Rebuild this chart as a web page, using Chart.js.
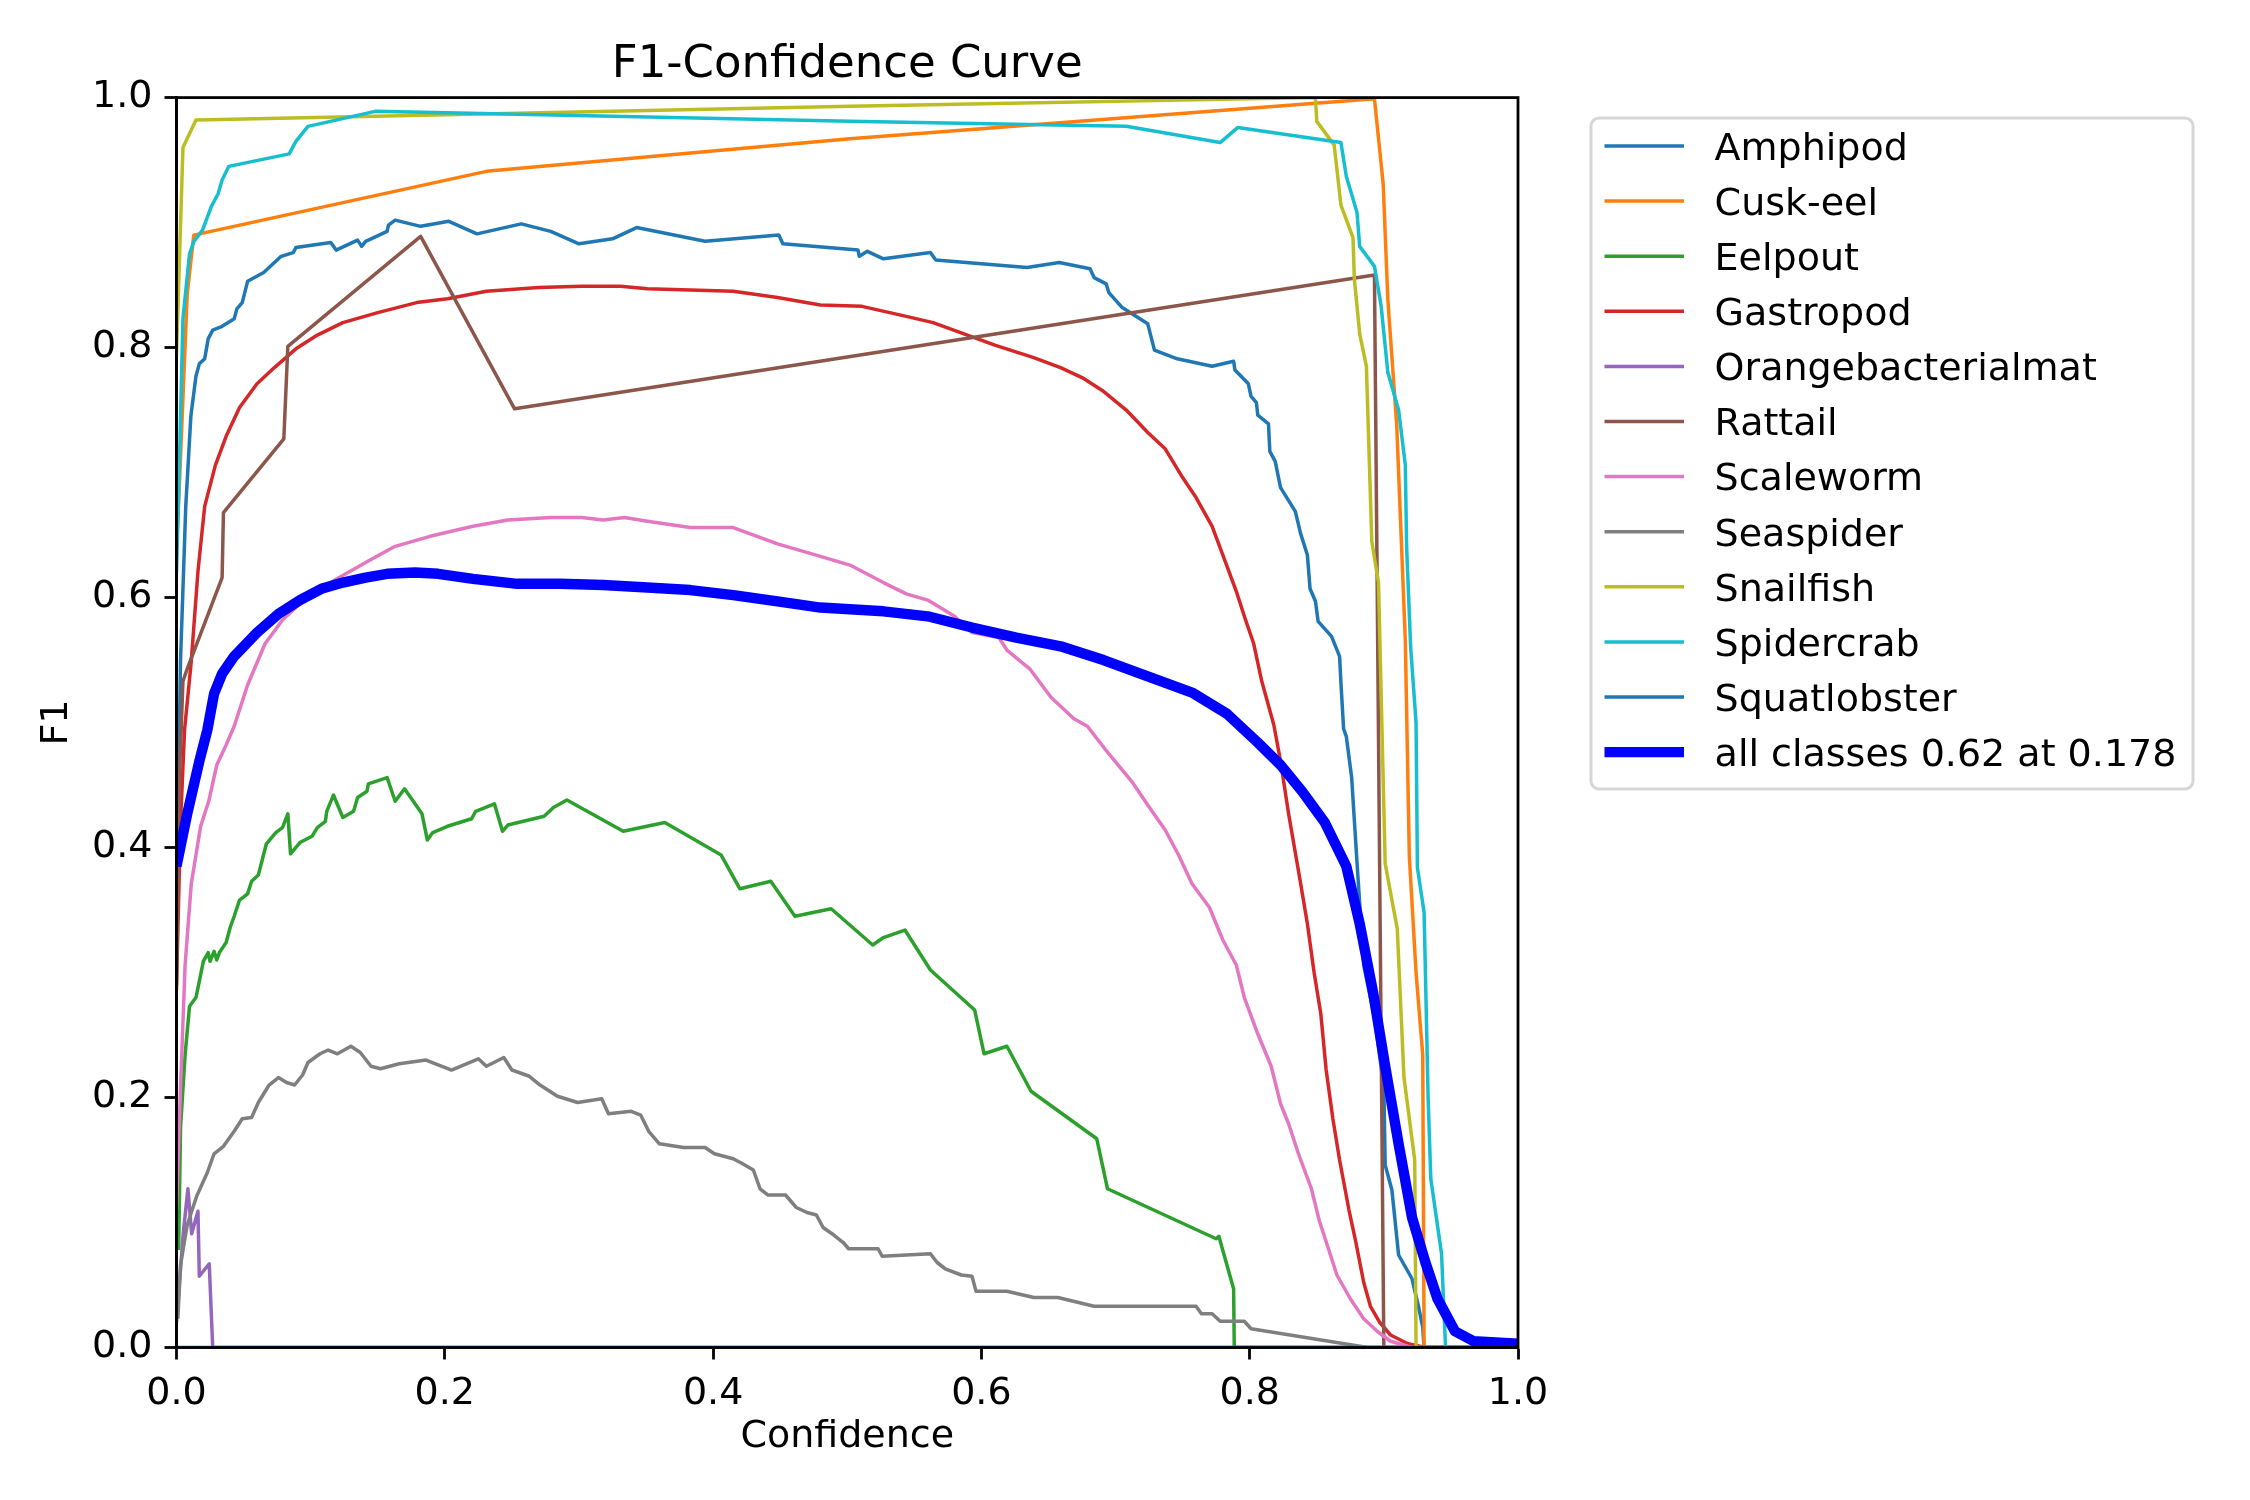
<!DOCTYPE html>
<html>
<head>
<meta charset="utf-8">
<title>F1-Confidence Curve</title>
<script src="https://cdn.jsdelivr.net/npm/chart.js@4.4.1/dist/chart.umd.min.js"></script>
<style>
  html, body { margin: 0; padding: 0; background: #ffffff; }
  canvas { display: block; }
</style>
</head>
<body>
<canvas id="f1Chart" width="2250" height="1500"></canvas>
<script>
'use strict';

// ---- data (confidence, F1) ----
const classNames = ['Amphipod', 'Cusk-eel', 'Eelpout', 'Gastropod', 'Orangebacterialmat', 'Rattail',
  'Scaleworm', 'Seaspider', 'Snailfish', 'Spidercrab', 'Squatlobster'];
const allClassesLabel = 'all classes 0.62 at 0.178';

const xTickValues = [0, 0.2, 0.4, 0.6, 0.8, 1.0];
const yTickValues = [0, 0.2, 0.4, 0.6, 0.8, 1.0];

const amphipod = [[0, 0.35], [0.003, 0.55], [0.0069, 0.673], [0.0107, 0.745], [0.0145, 0.777], [0.017, 0.787],
  [0.021, 0.791], [0.0236, 0.807], [0.027, 0.814], [0.034, 0.817], [0.043, 0.823], [0.045, 0.831], [0.049, 0.836],
  [0.053, 0.853], [0.065, 0.86], [0.078, 0.873], [0.087, 0.876], [0.089, 0.88], [0.115, 0.884], [0.119, 0.878],
  [0.135, 0.886], [0.138, 0.881], [0.141, 0.885], [0.157, 0.893], [0.158, 0.898], [0.163, 0.902], [0.182, 0.897],
  [0.203, 0.901], [0.224, 0.891], [0.257, 0.899], [0.279, 0.893], [0.3, 0.883], [0.325, 0.887], [0.343, 0.896],
  [0.394, 0.885], [0.449, 0.89], [0.452, 0.883], [0.508, 0.878], [0.509, 0.873], [0.515, 0.877], [0.527, 0.871],
  [0.562, 0.876], [0.566, 0.87], [0.634, 0.864], [0.658, 0.868], [0.681, 0.863], [0.684, 0.856], [0.693, 0.851],
  [0.695, 0.844], [0.705, 0.832], [0.724, 0.819], [0.729, 0.798], [0.746, 0.791], [0.772, 0.785], [0.788, 0.789],
  [0.789, 0.782], [0.799, 0.771], [0.801, 0.761], [0.805, 0.756], [0.806, 0.746], [0.814, 0.739], [0.815, 0.717],
  [0.819, 0.709], [0.823, 0.688], [0.834, 0.669], [0.838, 0.651], [0.843, 0.634], [0.845, 0.607], [0.849, 0.597],
  [0.851, 0.581], [0.861, 0.569], [0.867, 0.553], [0.868, 0.532], [0.87, 0.495], [0.872, 0.489], [0.876, 0.456],
  [0.88, 0.388], [0.885, 0.306], [0.893, 0.264], [0.9, 0.208], [0.901, 0.146], [0.906, 0.126], [0.911, 0.074],
  [0.921, 0.055], [0.926, 0.032], [0.929, 0.016], [0.93, 0], [1, 0]];

const cuskEel = [[0, 0.641], [0.002, 0.686], [0.008, 0.843], [0.0129, 0.89], [0.231, 0.941], [0.502, 0.967],
  [0.893, 0.999], [0.8995, 0.931], [0.903, 0.838], [0.9096, 0.738], [0.916, 0.566], [0.919, 0.393], [0.924, 0.3],
  [0.929, 0.234], [0.93, 0], [1, 0]];

const eelpout = [[0.0016, 0.078], [0.003, 0.176], [0.0064, 0.234], [0.0097, 0.273], [0.0145, 0.28], [0.017, 0.293],
  [0.02, 0.309], [0.0236, 0.316], [0.025, 0.309], [0.028, 0.317], [0.03, 0.31], [0.032, 0.316], [0.037, 0.324],
  [0.04, 0.336], [0.043, 0.345], [0.047, 0.358], [0.053, 0.363], [0.056, 0.373], [0.061, 0.378], [0.067, 0.403],
  [0.074, 0.412], [0.079, 0.416], [0.083, 0.427], [0.085, 0.395], [0.092, 0.404], [0.101, 0.409], [0.105, 0.416],
  [0.111, 0.421], [0.112, 0.429], [0.117, 0.442], [0.124, 0.424], [0.132, 0.429], [0.135, 0.44], [0.142, 0.445],
  [0.143, 0.451], [0.157, 0.456], [0.163, 0.437], [0.17, 0.447], [0.183, 0.427], [0.187, 0.406], [0.191, 0.412],
  [0.202, 0.417], [0.22, 0.423], [0.223, 0.429], [0.237, 0.435], [0.243, 0.413], [0.247, 0.418], [0.274, 0.425],
  [0.281, 0.432], [0.291, 0.438], [0.333, 0.413], [0.364, 0.42], [0.406, 0.394], [0.42, 0.367], [0.443, 0.373],
  [0.461, 0.345], [0.488, 0.351], [0.519, 0.322], [0.527, 0.328], [0.543, 0.334], [0.562, 0.302], [0.595, 0.27],
  [0.602, 0.235], [0.619, 0.241], [0.637, 0.205], [0.686, 0.167], [0.694, 0.127], [0.775, 0.087], [0.777, 0.089],
  [0.788, 0.047], [0.7885, 0], [1, 0]];

const gastropod = [[0, 0.29], [0.003, 0.42], [0.006, 0.494], [0.011, 0.549], [0.016, 0.621], [0.021, 0.673],
  [0.029, 0.706], [0.037, 0.729], [0.047, 0.752], [0.06, 0.771], [0.073, 0.784], [0.089, 0.799], [0.105, 0.81],
  [0.124, 0.82], [0.15, 0.828], [0.179, 0.836], [0.202, 0.839], [0.231, 0.845], [0.27, 0.848], [0.302, 0.849],
  [0.331, 0.849], [0.351, 0.847], [0.383, 0.846], [0.415, 0.845], [0.448, 0.84], [0.48, 0.834], [0.511, 0.833],
  [0.544, 0.825], [0.564, 0.82], [0.587, 0.811], [0.61, 0.802], [0.639, 0.792], [0.659, 0.784], [0.675, 0.776],
  [0.691, 0.765], [0.708, 0.75], [0.724, 0.732], [0.737, 0.719], [0.75, 0.696], [0.76, 0.68], [0.772, 0.657],
  [0.78, 0.634], [0.79, 0.605], [0.796, 0.585], [0.803, 0.563], [0.809, 0.533], [0.818, 0.498], [0.823, 0.469],
  [0.829, 0.427], [0.838, 0.371], [0.843, 0.339], [0.848, 0.3], [0.853, 0.267], [0.857, 0.222], [0.862, 0.183],
  [0.867, 0.15], [0.874, 0.11], [0.879, 0.085], [0.885, 0.052], [0.89, 0.033], [0.897, 0.02], [0.905, 0.01],
  [0.918, 0.003], [0.931, 0], [1, 0]];

const orangebacterialmat = [[0, 0.02], [0.005, 0.091], [0.0085, 0.127], [0.0113, 0.091], [0.016, 0.109],
  [0.017, 0.057], [0.0244, 0.067], [0.027, 0], [1, 0]];

const rattail = [[0, 0.286], [0.002, 0.45], [0.0048, 0.533], [0.008, 0.543], [0.034, 0.616], [0.035, 0.668],
  [0.08, 0.727], [0.083, 0.801], [0.182, 0.889], [0.252, 0.751], [0.893, 0.858], [0.9, 0], [1, 0]];

const scaleworm = [[0, 0.11], [0.003, 0.208], [0.0064, 0.306], [0.011, 0.371], [0.018, 0.417], [0.024, 0.437],
  [0.03, 0.466], [0.037, 0.482], [0.043, 0.497], [0.053, 0.53], [0.066, 0.563], [0.079, 0.582], [0.092, 0.595],
  [0.118, 0.614], [0.141, 0.628], [0.163, 0.641], [0.189, 0.649], [0.221, 0.657], [0.247, 0.662], [0.279, 0.664],
  [0.302, 0.664], [0.318, 0.662], [0.334, 0.664], [0.351, 0.661], [0.383, 0.656], [0.415, 0.656], [0.448, 0.643],
  [0.48, 0.633], [0.502, 0.626], [0.527, 0.612], [0.544, 0.603], [0.56, 0.598], [0.58, 0.585], [0.593, 0.572],
  [0.613, 0.568], [0.619, 0.558], [0.636, 0.543], [0.652, 0.52], [0.669, 0.503], [0.679, 0.497], [0.692, 0.479],
  [0.702, 0.466], [0.712, 0.453], [0.724, 0.434], [0.737, 0.414], [0.747, 0.394], [0.757, 0.371], [0.77, 0.352],
  [0.78, 0.326], [0.79, 0.306], [0.796, 0.28], [0.806, 0.251], [0.816, 0.225], [0.823, 0.195], [0.829, 0.179],
  [0.836, 0.156], [0.846, 0.127], [0.852, 0.101], [0.859, 0.078], [0.865, 0.058], [0.875, 0.039], [0.885, 0.023],
  [0.895, 0.013], [0.905, 0.005], [0.921, 0], [1, 0]];

const seaspider = [[0.001, 0.023], [0.003, 0.066], [0.008, 0.098], [0.015, 0.121], [0.023, 0.14], [0.028, 0.155],
  [0.035, 0.161], [0.043, 0.173], [0.049, 0.183], [0.056, 0.184], [0.061, 0.196], [0.069, 0.21], [0.076, 0.216],
  [0.082, 0.212], [0.088, 0.21], [0.094, 0.218], [0.098, 0.228], [0.107, 0.235], [0.113, 0.238], [0.12, 0.235],
  [0.13, 0.241], [0.137, 0.236], [0.145, 0.225], [0.152, 0.223], [0.166, 0.227], [0.186, 0.23], [0.205, 0.222],
  [0.225, 0.231], [0.231, 0.225], [0.244, 0.232], [0.25, 0.222], [0.263, 0.217], [0.271, 0.21], [0.284, 0.201],
  [0.299, 0.196], [0.317, 0.199], [0.322, 0.187], [0.339, 0.189], [0.346, 0.186], [0.352, 0.173], [0.36, 0.163],
  [0.378, 0.16], [0.394, 0.16], [0.401, 0.155], [0.415, 0.151], [0.422, 0.147], [0.43, 0.142], [0.435, 0.127],
  [0.441, 0.122], [0.454, 0.122], [0.462, 0.112], [0.47, 0.108], [0.477, 0.106], [0.482, 0.096], [0.49, 0.09],
  [0.497, 0.084], [0.501, 0.079], [0.523, 0.079], [0.526, 0.073], [0.562, 0.075], [0.567, 0.068], [0.573, 0.063],
  [0.585, 0.058], [0.593, 0.057], [0.596, 0.045], [0.619, 0.045], [0.639, 0.04], [0.657, 0.04], [0.684, 0.033],
  [0.76, 0.033], [0.764, 0.027], [0.772, 0.027], [0.778, 0.021], [0.796, 0.021], [0.801, 0.015], [0.888, 0],
  [1, 0]];

const snailfish = [[0, 0.794], [0.0048, 0.96], [0.0145, 0.982], [0.502, 0.993], [0.849, 1.0], [0.85, 0.981],
  [0.863, 0.962], [0.868, 0.914], [0.877, 0.888], [0.878, 0.855], [0.882, 0.811], [0.887, 0.785], [0.891, 0.645],
  [0.896, 0.612], [0.901, 0.387], [0.91, 0.335], [0.915, 0.216], [0.923, 0.15], [0.924, 0], [1, 0]];

const spidercrab = [[0, 0.62], [0.0017, 0.687], [0.0048, 0.823], [0.0097, 0.875], [0.013, 0.885], [0.0194, 0.894],
  [0.026, 0.913], [0.031, 0.923], [0.034, 0.934], [0.039, 0.945], [0.084, 0.955], [0.089, 0.965], [0.098, 0.977],
  [0.148, 0.989], [0.502, 0.981], [0.708, 0.977], [0.778, 0.964], [0.791, 0.976], [0.868, 0.964], [0.872, 0.937],
  [0.88, 0.908], [0.882, 0.881], [0.893, 0.865], [0.898, 0.833], [0.903, 0.78], [0.911, 0.75], [0.916, 0.706],
  [0.917, 0.64], [0.92, 0.56], [0.924, 0.5], [0.925, 0.384], [0.93, 0.348], [0.933, 0.2], [0.935, 0.135],
  [0.943, 0.075], [0.946, 0], [1, 0]];

const squatlobster = [[0, 0], [1, 0]];

const allClasses = [[0, 0.385], [0.008, 0.427], [0.017, 0.469], [0.023, 0.494], [0.028, 0.523], [0.034, 0.539],
  [0.043, 0.553], [0.06, 0.572], [0.076, 0.587], [0.092, 0.598], [0.108, 0.607], [0.124, 0.612], [0.141, 0.616],
  [0.157, 0.619], [0.178, 0.62], [0.195, 0.619], [0.221, 0.615], [0.254, 0.611], [0.286, 0.611], [0.318, 0.61],
  [0.351, 0.608], [0.383, 0.606], [0.415, 0.602], [0.448, 0.597], [0.48, 0.592], [0.527, 0.589], [0.56, 0.585],
  [0.593, 0.576], [0.626, 0.568], [0.659, 0.561], [0.691, 0.55], [0.724, 0.537], [0.757, 0.524], [0.783, 0.507],
  [0.806, 0.484], [0.823, 0.466], [0.839, 0.445], [0.856, 0.42], [0.872, 0.385], [0.882, 0.339], [0.892, 0.284],
  [0.901, 0.225], [0.911, 0.163], [0.921, 0.104], [0.931, 0.068], [0.94, 0.039], [0.953, 0.013], [0.967, 0.005],
  [1, 0.003]];

const classSeries = [amphipod, cuskEel, eelpout, gastropod, orangebacterialmat, rattail,
  scaleworm, seaspider, snailfish, spidercrab, squatlobster];

// matplotlib tab10 cycle
const classColors = ['#1f77b4', '#ff7f0e', '#2ca02c', '#d62728', '#9467bd', '#8c564b',
  '#e377c2', '#7f7f7f', '#bcbd22', '#17becf', '#1f77b4'];

const FONT = 'DejaVu Sans';
const TEXT_SIZE = 38;
const TITLE_SIZE = 45;
const SPINE = 2.8;

function toPoints(series) {
  return series.map(([x, y]) => ({ x, y }));
}

const datasets = classSeries.map((series, i) => ({
  label: classNames[i],
  data: toPoints(series),
  borderColor: classColors[i],
  borderWidth: 3.5,
  order: classSeries.length + 1 - i,
}));

datasets.push({
  label: allClassesLabel,
  data: toPoints(allClasses),
  borderColor: '#0000ff',
  borderWidth: 10.4,
  order: 0,
});

// title, frame and legend drawn the way matplotlib lays them out
const figurePlugin = {
  id: 'figurePlugin',
  afterDatasetsDraw(chart) {
    const { ctx, chartArea } = chart;
    ctx.save();
    ctx.strokeStyle = '#000000';
    ctx.lineWidth = SPINE;
    ctx.strokeRect(chartArea.left, chartArea.top, chartArea.right - chartArea.left, chartArea.bottom - chartArea.top);
    ctx.restore();
  },
  afterDraw(chart) {
    const { ctx, chartArea } = chart;
    ctx.save();

    ctx.fillStyle = '#000000';
    ctx.font = `${TITLE_SIZE}px "${FONT}"`;
    ctx.textAlign = 'center';
    ctx.textBaseline = 'alphabetic';
    ctx.fillText('F1-Confidence Curve', (chartArea.left + chartArea.right) / 2, 77);

    const boxLeft = 1591;
    const boxTop = 118;
    const boxWidth = 602;
    const boxHeight = 671;
    ctx.beginPath();
    ctx.roundRect(boxLeft, boxTop, boxWidth, boxHeight, 8);
    ctx.fillStyle = 'rgba(255,255,255,0.8)';
    ctx.fill();
    ctx.strokeStyle = 'rgba(204,204,204,0.8)';
    ctx.lineWidth = 3;
    ctx.stroke();

    const rowStart = 146;
    const rowGap = 55.1;
    ctx.font = `${TEXT_SIZE}px "${FONT}"`;
    ctx.textAlign = 'left';
    chart.data.datasets.forEach((ds, i) => {
      const y = rowStart + i * rowGap;
      ctx.beginPath();
      ctx.moveTo(1604.5, y);
      ctx.lineTo(1684, y);
      ctx.strokeStyle = ds.borderColor;
      ctx.lineWidth = ds.borderWidth;
      ctx.lineCap = 'butt';
      ctx.stroke();
      ctx.fillStyle = '#000000';
      ctx.fillText(ds.label, 1714.6, y + 0.365 * TEXT_SIZE);
    });

    ctx.restore();
  },
};

function axisOptions(tickValues, titleText, titlePadding) {
  return {
    type: 'linear',
    min: 0,
    max: 1,
    afterBuildTicks: (scale) => {
      scale.ticks = tickValues.map((value) => ({ value }));
    },
    ticks: {
      color: '#000000',
      font: { family: FONT, size: TEXT_SIZE },
      padding: 12,
      maxRotation: 0,
      autoSkip: false,
      callback: (value) => Number(value).toFixed(1),
    },
    grid: {
      drawOnChartArea: false,
      drawTicks: true,
      tickLength: 12,
      tickWidth: SPINE,
      tickColor: '#000000',
    },
    border: { display: true, color: '#000000', width: SPINE },
    title: {
      display: true,
      text: titleText,
      color: '#000000',
      font: { family: FONT, size: TEXT_SIZE },
      padding: titlePadding,
    },
  };
}

const xAxis = axisOptions(xTickValues, 'Confidence', { top: 0, bottom: 40 });
xAxis.afterFit = (scale) => { scale.height = 152.5; };

const yAxis = axisOptions(yTickValues, 'F1', { top: 34, bottom: 0 });
yAxis.afterFit = (scale) => { scale.width = 176.5; };

new Chart(document.getElementById('f1Chart'), {
  type: 'scatter',
  data: { datasets },
  options: {
    responsive: false,
    devicePixelRatio: 1,
    animation: false,
    showLine: true,
    elements: {
      point: { radius: 0, hoverRadius: 0 },
      line: { tension: 0, fill: false, borderJoinStyle: 'round', borderCapStyle: 'butt' },
    },
    layout: { padding: { top: 97.6, right: 732, bottom: 0, left: 0 } },
    plugins: {
      legend: { display: false },
      title: { display: false },
      tooltip: { enabled: false },
    },
    scales: { x: xAxis, y: yAxis },
  },
  plugins: [figurePlugin],
});
</script>
</body>
</html>
